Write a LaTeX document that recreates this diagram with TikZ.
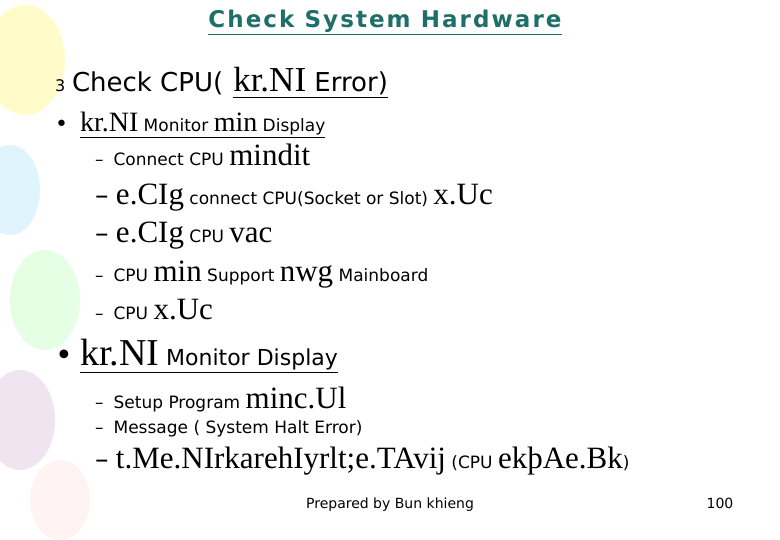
\documentclass[tikz,border=0pt]{standalone}
\usepackage{fontspec}
\setmainfont{DejaVu Sans}
\newfontfamily\kh{Liberation Serif}
\newfontfamily\titlefont[LetterSpace=9]{DejaVu Sans}
\usetikzlibrary{calc}
\definecolor{titlec}{HTML}{1E6E6A}
\newcommand{\KH}[1]{{\kh\fontsize{31}{34}\selectfont #1}}
\newcommand{\DASH}{{\fontsize{27}{30}\selectfont –\;}}
\begin{document}
\begin{tikzpicture}[x=1pt,y=-1pt,
  t/.style={anchor=base west,inner sep=0pt,outer sep=0pt},
  balloon/.style={opacity=0.35}]
\useasboundingbox (0,0) rectangle (780,540);
\fill[white] (0,0) rectangle (780,540);
% decorative balloons
\fill[balloon,yellow!60] (25,60) ellipse (40 and 55);
\fill[balloon,cyan!35] (10,190) ellipse (30 and 45);
\fill[balloon,green!30] (45,300) ellipse (35 and 50);
\fill[balloon,violet!30] (20,420) ellipse (35 and 50);
\fill[balloon,pink!50] (60,500) ellipse (30 and 40);
% title
\node[t,anchor=base,font=\titlefont\fontsize{23}{26}\selectfont\bfseries,text=titlec] (title) at (385,28) {\underline{Check System Hardware}};
% line 1
\node[t,font=\fontsize{16}{18}\selectfont] (n3) at (55,92) {3};
\node[t,font=\fontsize{26}{30}\selectfont] (l1) at (72,92) {Check CPU(\hspace{10pt}\underline{{\kh\fontsize{35}{38}\selectfont kr.NI} Error)}};
% bullet 1
\node[t,font=\fontsize{22}{26}\selectfont] (b1) at (55,132) {•};
\node[t,font=\fontsize{17}{22}\selectfont] (l2) at (80,132) {\underline{{\kh\fontsize{28}{32}\selectfont kr.NI} Monitor {\kh\fontsize{28}{32}\selectfont min} Display}};
\node[t,font=\fontsize{17}{20}\selectfont] (l3) at (95,166) {–\; Connect CPU \KH{mindit}};
\node[t,font=\fontsize{17}{20}\selectfont] (l4) at (95,205) {\DASH\KH{e.CIg} connect CPU(Socket or Slot) \KH{x.Uc}};
\node[t,font=\fontsize{17}{20}\selectfont] (l5) at (95,243) {\DASH\KH{e.CIg} CPU \KH{vac}};
\node[t,font=\fontsize{17}{20}\selectfont] (l6) at (95,282) {–\; CPU \KH{min} Support \KH{nwg} Mainboard};
\node[t,font=\fontsize{17}{20}\selectfont] (l7) at (95,320) {–\; CPU \KH{x.Uc}};
% bullet 2
\node[t,font=\fontsize{30}{34}\selectfont] (b2) at (55,366) {•};
\node[t,font=\fontsize{22}{26}\selectfont] (l8) at (80,366) {\underline{{\kh\fontsize{38}{42}\selectfont kr.NI} Monitor Display}};
\node[t,font=\fontsize{17}{20}\selectfont] (l9) at (95,408) {–\; Setup Program \KH{minc.Ul}};
\node[t,font=\fontsize{17}{20}\selectfont] (l10) at (95,433) {–\; Message ( System Halt Error)};
\node[t,font=\fontsize{17}{20}\selectfont] (l11) at (95,468) {\DASH\KH{t.Me.NIrkarehIyrlt;e.TAvij} (CPU \KH{ekþAe.Bk})};
% footer
\node[t,anchor=base,font=\fontsize{14}{16}\selectfont] (foot) at (390,508) {Prepared by Bun khieng};
\node[t,anchor=base,font=\fontsize{14}{16}\selectfont] (pg) at (720,508) {100};
\end{tikzpicture}
\end{document}
